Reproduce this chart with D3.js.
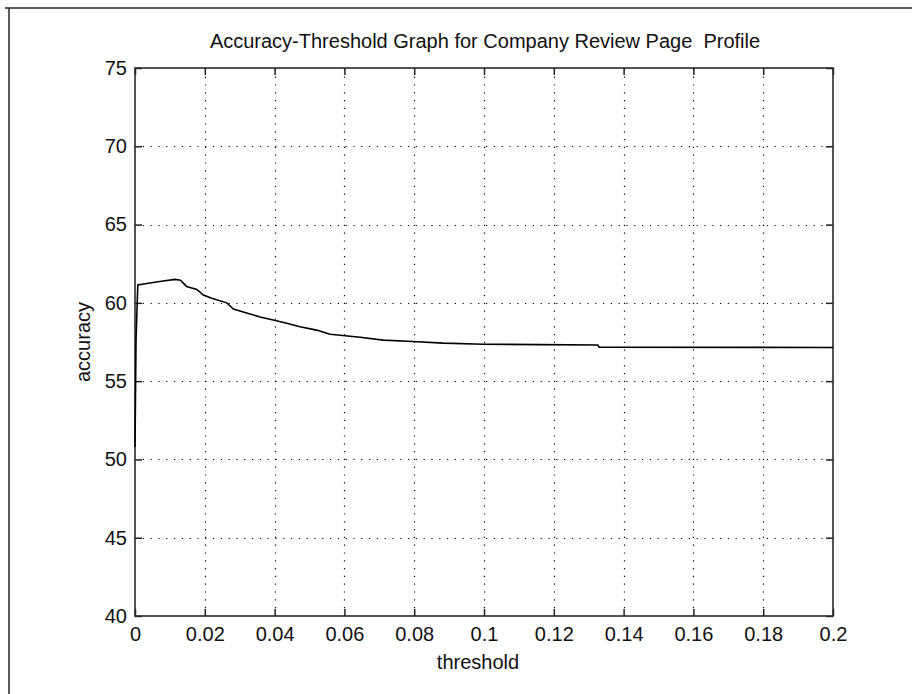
<!DOCTYPE html>
<html>
<head>
<meta charset="utf-8">
<script src="https://cdn.jsdelivr.net/npm/d3@7"></script>
<style>
  html, body { margin: 0; padding: 0; background: #fff; }
  svg { display: block; }
  text { font-family: "Liberation Sans", Arial, sans-serif; fill: #111; }
</style>
</head>
<body>
<svg id="chart" width="912" height="694"></svg>
<script>
// Accuracy measured at each threshold value
const thresholds = [0, 0.0003, 0.0008, 0.0043, 0.0081, 0.0115, 0.0130, 0.0148, 0.0177, 0.0196,
  0.0220, 0.0263, 0.0282, 0.0320, 0.0358, 0.0396, 0.0435, 0.0473, 0.0520, 0.0559,
  0.0645, 0.0711, 0.0797, 0.0883, 0.0998, 0.1160, 0.1326, 0.1330, 0.2000];
const accuracy = [50.8, 57.7, 61.15, 61.27, 61.4, 61.5, 61.45, 61.05, 60.86, 60.5,
  60.3, 60.0, 59.6, 59.35, 59.1, 58.9, 58.7, 58.47, 58.26, 58.0,
  57.8, 57.62, 57.53, 57.43, 57.36, 57.33, 57.31, 57.17, 57.15];

const xTicks = [0, 0.02, 0.04, 0.06, 0.08, 0.1, 0.12, 0.14, 0.16, 0.18, 0.2];
const xTickLabels = ["0", "0.02", "0.04", "0.06", "0.08", "0.1", "0.12", "0.14", "0.16", "0.18", "0.2"];
const yTicks = [40, 45, 50, 55, 60, 65, 70, 75];

const titleText = "Accuracy-Threshold Graph for Company Review Page  Profile";
const xLabel = "threshold";
const yLabel = "accuracy";

(function draw() {
  const svg = d3.select("#chart");
  const pl = 135, pr = 833, pt = 68, pb = 616;
  const fontSize = 20;

  const x = d3.scaleLinear().domain([0, 0.2]).range([pl, pr]);
  const y = d3.scaleLinear().domain([40, 75]).range([pb, pt]);

  // figure frame edges
  svg.append("line").attr("x1", 5).attr("x2", 912).attr("y1", 8).attr("y2", 8)
    .attr("stroke", "#222").attr("stroke-width", 1.5);
  svg.append("line").attr("x1", 9).attr("x2", 9).attr("y1", 8).attr("y2", 694)
    .attr("stroke", "#222").attr("stroke-width", 1.5);

  // dotted grid
  const grid = svg.append("g").attr("stroke", "#000").attr("stroke-width", 1.2)
    .attr("stroke-dasharray", "1.2,6.6");
  grid.selectAll("line.vx").data(xTicks.slice(1, -1)).join("line")
    .attr("x1", d => Math.round(x(d)) + 0.5).attr("x2", d => Math.round(x(d)) + 0.5)
    .attr("y1", pb).attr("y2", pt);
  grid.selectAll("line.hy").data(yTicks.slice(1, -1)).join("line")
    .attr("y1", d => Math.round(y(d)) + 0.5).attr("y2", d => Math.round(y(d)) + 0.5)
    .attr("x1", pl).attr("x2", pr);

  // axes with inward ticks on all four sides
  const tick = 7;
  const fmtX = (d, i) => xTickLabels[i];
  const gB = svg.append("g").attr("transform", `translate(0,${pb})`)
    .call(d3.axisBottom(x).tickValues(xTicks).tickFormat(fmtX).tickSize(-tick).tickSizeOuter(0).tickPadding(11));
  const gT = svg.append("g").attr("transform", `translate(0,${pt})`)
    .call(d3.axisTop(x).tickValues(xTicks).tickFormat("").tickSize(-tick).tickSizeOuter(0));
  const gL = svg.append("g").attr("transform", `translate(${pl},0)`)
    .call(d3.axisLeft(y).tickValues(yTicks).tickFormat(d3.format("d")).tickSize(-tick).tickSizeOuter(0).tickPadding(8));
  const gR = svg.append("g").attr("transform", `translate(${pr},0)`)
    .call(d3.axisRight(y).tickValues(yTicks).tickFormat("").tickSize(-tick).tickSizeOuter(0));

  [gB, gT, gL, gR].forEach(g => {
    g.select(".domain").remove();
    g.selectAll(".tick line").attr("stroke", "#222").attr("stroke-width", 1.5);
    g.selectAll("text").attr("font-size", fontSize).attr("fill", "#111")
      .attr("font-family", '"Liberation Sans", Arial, sans-serif');
  });

  // axes box
  svg.append("rect").attr("x", pl).attr("y", pt)
    .attr("width", pr - pl).attr("height", pb - pt)
    .attr("fill", "none").attr("stroke", "#2a2a2a").attr("stroke-width", 1.6);

  // accuracy curve
  const pts = thresholds.map((t, i) => [t, accuracy[i]]);
  svg.append("path").datum(pts)
    .attr("fill", "none").attr("stroke", "#000").attr("stroke-width", 1.6)
    .attr("d", d3.line().x(d => x(d[0])).y(d => y(d[1])));

  // labels
  svg.append("text").attr("x", (pl + pr) / 2 + 1).attr("y", 48)
    .attr("text-anchor", "middle").attr("font-size", fontSize)
    .style("white-space", "pre").text(titleText);
  svg.append("text").attr("x", 478).attr("y", 669)
    .attr("text-anchor", "middle").attr("font-size", fontSize).text(xLabel);
  svg.append("text").attr("transform", `translate(90,${(pt + pb) / 2}) rotate(-90)`)
    .attr("text-anchor", "middle").attr("font-size", fontSize).text(yLabel);
})();
</script>
</body>
</html>
